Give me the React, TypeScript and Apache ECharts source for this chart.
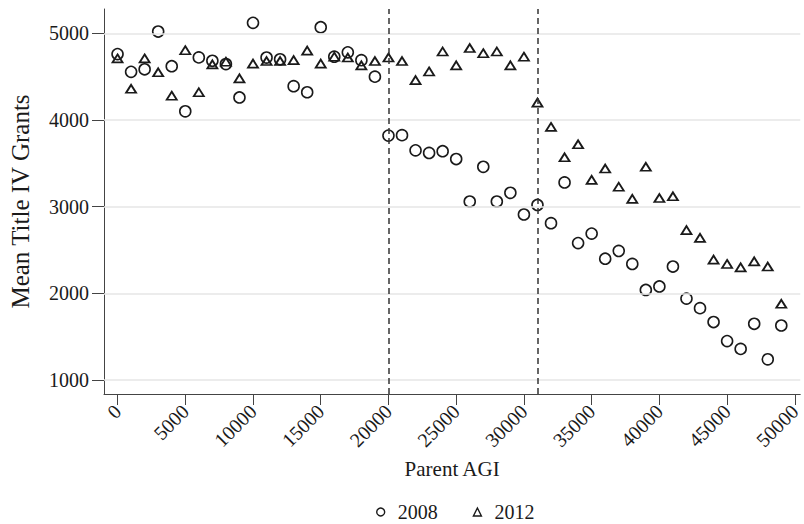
import React, { useEffect, useRef } from "react";
import * as echarts from "echarts";

const parentAGI = [
  0, 1000, 2000, 3000, 4000, 5000, 6000, 7000, 8000, 9000,
  10000, 11000, 12000, 13000, 14000, 15000, 16000, 17000, 18000, 19000,
  20000, 21000, 22000, 23000, 24000, 25000, 26000, 27000, 28000, 29000,
  30000, 31000, 32000, 33000, 34000, 35000, 36000, 37000, 38000, 39000,
  40000, 41000, 42000, 43000, 44000, 45000, 46000, 47000, 48000, 49000,
];

const grants2008 = [
  4760, 4555, 4585, 5020, 4620, 4100, 4722, 4683, 4645, 4260,
  5120, 4720, 4700, 4390, 4320, 5070, 4730, 4780, 4690, 4500,
  3820, 3825, 3650, 3620, 3640, 3550, 3060, 3460, 3060, 3160,
  2910, 3020, 2810, 3280, 2580, 2690, 2400, 2490, 2340, 2040,
  2080, 2310, 1940, 1830, 1670, 1450, 1360, 1650, 1240, 1630,
];

const grants2012 = [
  4710, 4360, 4710, 4550, 4280, 4805, 4320, 4642, 4672, 4480,
  4650, 4680, 4680, 4690, 4800, 4650, 4730, 4720, 4630, 4680,
  4720, 4680, 4460, 4560, 4790, 4630, 4830, 4770, 4790, 4630,
  4730, 4200, 3920, 3570, 3720, 3310, 3440, 3230, 3090, 3460,
  3100, 3120, 2730, 2640, 2390, 2340, 2300, 2370, 2310, 1880,
];

const xTickValues = [0, 5000, 10000, 15000, 20000, 25000, 30000, 35000, 40000, 45000, 50000];
const yTickValues = [1000, 2000, 3000, 4000, 5000];
const cutoffs = [20000, 31000];
const seriesNames = ["2008", "2012"];

const FONT = "'Liberation Serif', 'Times New Roman', serif";
const INK = "#1a1a1a";
const AXIS = "#444";

export default function App() {
  const ref = useRef<HTMLDivElement>(null);

  useEffect(() => {
    document.body.style.margin = "0";
    const chart = echarts.init(ref.current!, null, { renderer: "svg" });
    chart.setOption({
      animation: false,
      backgroundColor: "#ffffff",
      grid: { left: 100, right: 0, top: 9, bottom: 130, containLabel: false },
      legend: {
        left: 376,
        top: 502,
        padding: 0,
        itemWidth: 8,
        itemHeight: 8,
        itemGap: 35,
        textStyle: {
          fontFamily: FONT,
          fontSize: 20,
          lineHeight: 20,
          color: INK,
          padding: [0, 0, 0, 8],
        },
        data: [
          { name: seriesNames[0], icon: "circle" },
          { name: seriesNames[1], icon: "triangle" },
        ],
        itemStyle: { color: "rgba(0,0,0,0)", borderColor: INK, borderWidth: 1.4 },
      },
      xAxis: {
        type: "value",
        min: -1000,
        max: 50400,
        name: "Parent AGI",
        nameLocation: "middle",
        nameGap: 64,
        nameTextStyle: { fontFamily: FONT, fontSize: 21, color: INK },
        axisLine: { show: true, onZero: false, lineStyle: { color: AXIS, width: 1 } },
        axisTick: { show: true, length: 11, customValues: xTickValues, lineStyle: { color: AXIS, width: 1 } },
        axisLabel: {
          customValues: xTickValues,
          formatter: (v: number) => String(v),
          rotate: 45,
          margin: 14,
          fontFamily: FONT,
          fontSize: 20,
          color: INK,
        },
        splitLine: { show: false },
      },
      yAxis: {
        type: "value",
        min: 840,
        max: 5280,
        name: "Mean Title IV Grants",
        nameLocation: "middle",
        nameGap: 71,
        nameTextStyle: { fontFamily: FONT, fontSize: 25, color: INK },
        axisLine: { show: true, onZero: false, lineStyle: { color: AXIS, width: 1 } },
        axisTick: { show: true, length: 12, customValues: yTickValues, lineStyle: { color: AXIS, width: 1 } },
        axisLabel: {
          customValues: yTickValues,
          formatter: (v: number) => String(v),
          margin: 15,
          fontFamily: FONT,
          fontSize: 20,
          color: INK,
        },
        splitLine: { show: false },
      },
      series: [
        {
          name: "grid",
          type: "scatter",
          data: [],
          z: 1,
          silent: true,
          markLine: {
            silent: true,
            symbol: "none",
            label: { show: false },
            lineStyle: { color: "#e6e6e6", type: "solid", width: 1.5 },
            data: yTickValues.map((v) => ({ yAxis: v })),
          },
        },
        {
          name: "cutoffs",
          type: "scatter",
          data: [],
          z: 2,
          silent: true,
          markLine: {
            silent: true,
            symbol: "none",
            label: { show: false },
            lineStyle: { color: "#333", type: [6, 4], width: 1.5 },
            data: cutoffs.map((v) => ({ xAxis: v })),
          },
        },
        {
          name: seriesNames[0],
          type: "scatter",
          z: 3,
          symbol: "circle",
          symbolSize: 11,
          data: parentAGI.map((x, i) => [x, grants2008[i]]),
          itemStyle: { color: "rgba(0,0,0,0)", borderColor: INK, borderWidth: 1.6, opacity: 1 },
        },
        {
          name: seriesNames[1],
          type: "scatter",
          z: 4,
          symbol: "triangle",
          symbolSize: [10, 8],
          data: parentAGI.map((x, i) => [x, grants2012[i]]),
          itemStyle: { color: "rgba(0,0,0,0)", borderColor: INK, borderWidth: 1.8, opacity: 1 },
        },
      ],
    });
    return () => chart.dispose();
  }, []);

  return <div ref={ref} style={{ width: 804, height: 524 }} />;
}
